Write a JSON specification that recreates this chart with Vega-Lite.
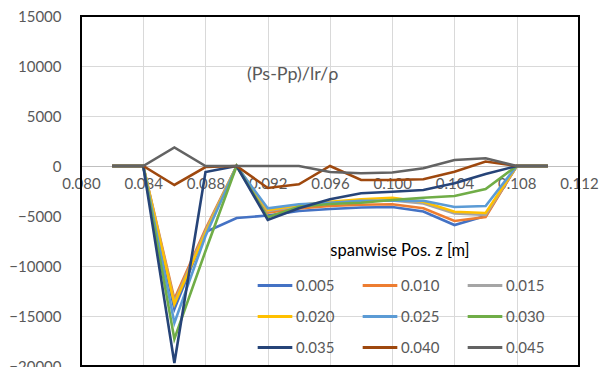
{
"$schema": "https://vega.github.io/schema/vega-lite/v6.json",
"width": 498, "height": 350,
"autosize": "none",
"padding": {"left": 81, "top": 16, "right": 30, "bottom": 1},
"background": "white",
"config": {"font": "Lato", "view": {"stroke": null}},
"datasets": {
"pts": [
{"z":"0.005","x":0.082,"y":0},{"z":"0.005","x":0.084,"y":0},{"z":"0.005","x":0.086,"y":-14300},{"z":"0.005","x":0.088,"y":-6600},{"z":"0.005","x":0.090,"y":-5200},{"z":"0.005","x":0.092,"y":-4950},{"z":"0.005","x":0.094,"y":-4500},{"z":"0.005","x":0.096,"y":-4300},{"z":"0.005","x":0.098,"y":-4150},{"z":"0.005","x":0.100,"y":-4100},{"z":"0.005","x":0.102,"y":-4550},{"z":"0.005","x":0.104,"y":-5900},{"z":"0.005","x":0.106,"y":-5000},{"z":"0.005","x":0.108,"y":0},{"z":"0.005","x":0.110,"y":0},
{"z":"0.010","x":0.082,"y":0},{"z":"0.010","x":0.084,"y":0},{"z":"0.010","x":0.086,"y":-13300},{"z":"0.010","x":0.088,"y":-6300},{"z":"0.010","x":0.090,"y":0},{"z":"0.010","x":0.092,"y":-4650},{"z":"0.010","x":0.094,"y":-4250},{"z":"0.010","x":0.096,"y":-4000},{"z":"0.010","x":0.098,"y":-3870},{"z":"0.010","x":0.100,"y":-3830},{"z":"0.010","x":0.102,"y":-4230},{"z":"0.010","x":0.104,"y":-5500},{"z":"0.010","x":0.106,"y":-5100},{"z":"0.010","x":0.108,"y":0},{"z":"0.010","x":0.110,"y":0},
{"z":"0.015","x":0.082,"y":0},{"z":"0.015","x":0.084,"y":0},{"z":"0.015","x":0.086,"y":-13600},{"z":"0.015","x":0.088,"y":-6500},{"z":"0.015","x":0.090,"y":0},{"z":"0.015","x":0.092,"y":-4500},{"z":"0.015","x":0.094,"y":-4000},{"z":"0.015","x":0.096,"y":-3700},{"z":"0.015","x":0.098,"y":-3500},{"z":"0.015","x":0.100,"y":-3450},{"z":"0.015","x":0.102,"y":-3750},{"z":"0.015","x":0.104,"y":-4750},{"z":"0.015","x":0.106,"y":-4900},{"z":"0.015","x":0.108,"y":0},{"z":"0.015","x":0.110,"y":0},
{"z":"0.020","x":0.082,"y":0},{"z":"0.020","x":0.084,"y":0},{"z":"0.020","x":0.086,"y":-13800},{"z":"0.020","x":0.088,"y":-6700},{"z":"0.020","x":0.090,"y":0},{"z":"0.020","x":0.092,"y":-4400},{"z":"0.020","x":0.094,"y":-3900},{"z":"0.020","x":0.096,"y":-3570},{"z":"0.020","x":0.098,"y":-3330},{"z":"0.020","x":0.100,"y":-3170},{"z":"0.020","x":0.102,"y":-3570},{"z":"0.020","x":0.104,"y":-4570},{"z":"0.020","x":0.106,"y":-4700},{"z":"0.020","x":0.108,"y":0},{"z":"0.020","x":0.110,"y":0},
{"z":"0.025","x":0.082,"y":0},{"z":"0.025","x":0.084,"y":0},{"z":"0.025","x":0.086,"y":-15700},{"z":"0.025","x":0.088,"y":-7000},{"z":"0.025","x":0.090,"y":0},{"z":"0.025","x":0.092,"y":-4230},{"z":"0.025","x":0.094,"y":-3830},{"z":"0.025","x":0.096,"y":-3670},{"z":"0.025","x":0.098,"y":-3470},{"z":"0.025","x":0.100,"y":-3470},{"z":"0.025","x":0.102,"y":-3470},{"z":"0.025","x":0.104,"y":-4100},{"z":"0.025","x":0.106,"y":-4000},{"z":"0.025","x":0.108,"y":0},{"z":"0.025","x":0.110,"y":0},
{"z":"0.030","x":0.082,"y":0},{"z":"0.030","x":0.084,"y":0},{"z":"0.030","x":0.086,"y":-17300},{"z":"0.030","x":0.088,"y":-8500},{"z":"0.030","x":0.090,"y":0},{"z":"0.030","x":0.092,"y":-5130},{"z":"0.030","x":0.094,"y":-4070},{"z":"0.030","x":0.096,"y":-3800},{"z":"0.030","x":0.098,"y":-3670},{"z":"0.030","x":0.100,"y":-3400},{"z":"0.030","x":0.102,"y":-3170},{"z":"0.030","x":0.104,"y":-3000},{"z":"0.030","x":0.106,"y":-2300},{"z":"0.030","x":0.108,"y":0},{"z":"0.030","x":0.110,"y":0},
{"z":"0.035","x":0.082,"y":0},{"z":"0.035","x":0.084,"y":0},{"z":"0.035","x":0.086,"y":-19700},{"z":"0.035","x":0.088,"y":-600},{"z":"0.035","x":0.090,"y":0},{"z":"0.035","x":0.092,"y":-5400},{"z":"0.035","x":0.094,"y":-4230},{"z":"0.035","x":0.096,"y":-3330},{"z":"0.035","x":0.098,"y":-2730},{"z":"0.035","x":0.100,"y":-2570},{"z":"0.035","x":0.102,"y":-2400},{"z":"0.035","x":0.104,"y":-1730},{"z":"0.035","x":0.106,"y":-800},{"z":"0.035","x":0.108,"y":0},{"z":"0.035","x":0.110,"y":0},
{"z":"0.040","x":0.082,"y":0},{"z":"0.040","x":0.084,"y":0},{"z":"0.040","x":0.086,"y":-1900},{"z":"0.040","x":0.088,"y":-100},{"z":"0.040","x":0.090,"y":0},{"z":"0.040","x":0.092,"y":-2200},{"z":"0.040","x":0.094,"y":-1830},{"z":"0.040","x":0.096,"y":0},{"z":"0.040","x":0.098,"y":-1400},{"z":"0.040","x":0.100,"y":-1400},{"z":"0.040","x":0.102,"y":-1330},{"z":"0.040","x":0.104,"y":-570},{"z":"0.040","x":0.106,"y":450},{"z":"0.040","x":0.108,"y":0},{"z":"0.040","x":0.110,"y":0},
{"z":"0.045","x":0.082,"y":0},{"z":"0.045","x":0.084,"y":0},{"z":"0.045","x":0.086,"y":1850},{"z":"0.045","x":0.088,"y":0},{"z":"0.045","x":0.090,"y":0},{"z":"0.045","x":0.092,"y":0},{"z":"0.045","x":0.094,"y":0},{"z":"0.045","x":0.096,"y":-600},{"z":"0.045","x":0.098,"y":-730},{"z":"0.045","x":0.100,"y":-650},{"z":"0.045","x":0.102,"y":-230},{"z":"0.045","x":0.104,"y":600},{"z":"0.045","x":0.106,"y":770},{"z":"0.045","x":0.108,"y":0},{"z":"0.045","x":0.110,"y":0}
],
"lbl": [{"x": 0.0936, "y": 9100, "t": "(Ps-Pp)/lr/ρ"}],
"frame": [{"x": 0.08, "x2": 0.112, "y": -20000, "y2": 15000}]
},
"layer": [
{
"data": {"name": "pts"},
"mark": {"type": "line", "strokeWidth": 2.6, "clip": true},
"encoding": {
"x": {"field": "x", "type": "quantitative",
 "scale": {"domain": [0.08, 0.112], "nice": false, "zero": false},
 "axis": {"values": [0.08, 0.084, 0.088, 0.092, 0.096, 0.1, 0.104, 0.108, 0.112], "format": ".3f", "offset": -200, "title": null, "ticks": false, "domainColor": "#bfbfbf", "domainWidth": 1, "labelColor": "#595959", "labelFontSize": 15, "labelPadding": 10, "gridColor": "#d9d9d9", "labelFlush": false}},
"y": {"field": "y", "type": "quantitative",
 "scale": {"domain": [-20000, 15000], "nice": false},
 "axis": {"values": [-20000, -15000, -10000, -5000, 0, 5000, 10000, 15000], "format": "d", "title": null, "ticks": false, "domain": false, "labelColor": "#595959", "labelFontSize": 15, "labelPadding": 20, "gridColor": "#d9d9d9"}},
"color": {"field": "z", "type": "nominal",
 "scale": {"domain": ["0.005","0.010","0.015","0.020","0.025","0.030","0.035","0.040","0.045"],
  "range": ["#4472C4","#ED7D31","#A5A5A5","#FFC000","#5B9BD5","#70AD47","#264478","#9E480E","#636363"]},
 "legend": {"orient": "none", "legendX": 175, "legendY": 227, "direction": "horizontal", "columns": 3,
  "symbolType": "stroke", "symbolSize": 1200, "symbolStrokeWidth": 3,
  "labelFontSize": 15, "labelColor": "#595959", "labelOffset": 2,
  "title": "spanwise Pos. z [m]", "titleFontSize": 16.5, "titleFontWeight": "normal", "titleColor": "#000",
  "titleAnchor": "middle", "titlePadding": 7, "columnPadding": 21, "rowPadding": 4}}
}
},
{
"data": {"name": "lbl"},
"mark": {"type": "text", "fontSize": 18, "color": "#595959"},
"encoding": {
"x": {"field": "x", "type": "quantitative"},
"y": {"field": "y", "type": "quantitative"},
"text": {"field": "t"}
}
},
{
"data": {"name": "frame"},
"mark": {"type": "rect", "fill": null, "fillOpacity": 0, "stroke": "#000000", "strokeWidth": 2},
"encoding": {
"x": {"field": "x", "type": "quantitative"},
"x2": {"field": "x2"},
"y": {"field": "y", "type": "quantitative"},
"y2": {"field": "y2"}
}
}
]
}
